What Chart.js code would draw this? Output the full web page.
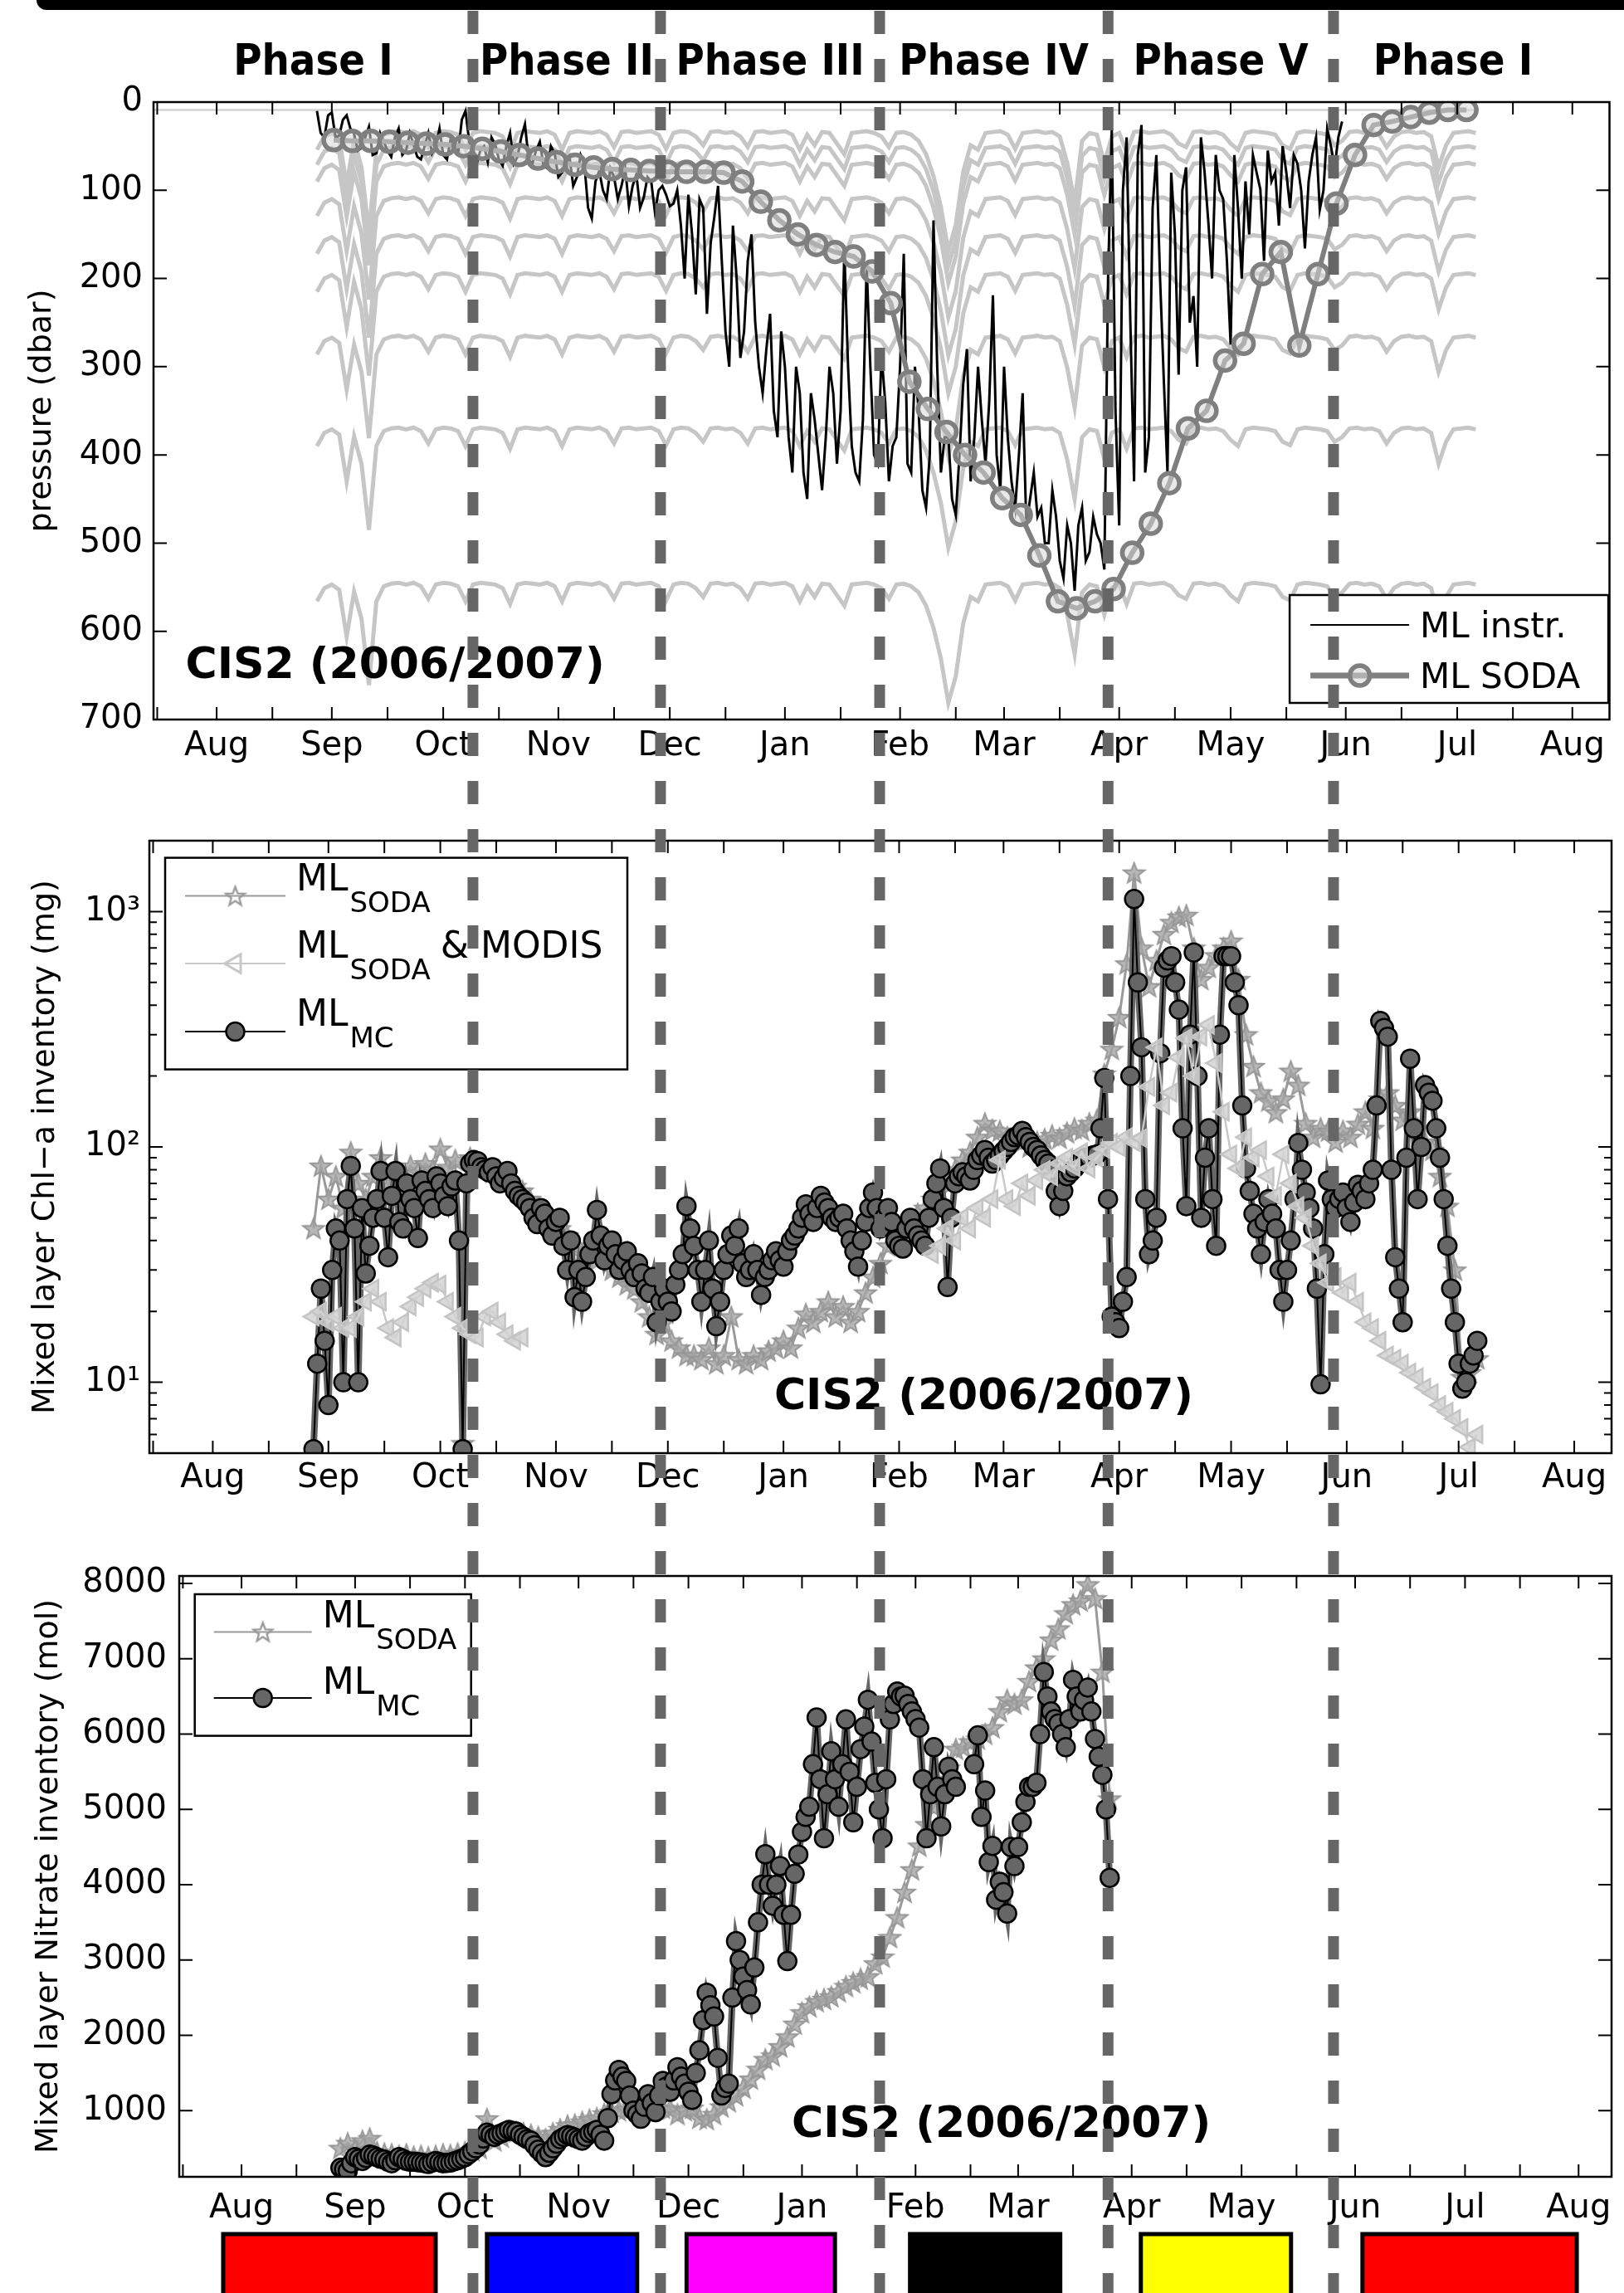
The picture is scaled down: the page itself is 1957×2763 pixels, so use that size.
<!DOCTYPE html>
<html>
<head>
<meta charset="utf-8">
<script src="https://cdn.jsdelivr.net/npm/chart.js@4.4.1/dist/chart.umd.min.js"></script>
<style>
html, body { margin: 0; padding: 0; background: #fff; }
body { width: 1957px; height: 2763px; position: relative; overflow: hidden; }
.topbar { position: absolute; left: 44px; top: 0; width: 1913px; height: 12px; background: #000; border-bottom-left-radius: 12px; }
.panel { position: absolute; left: 0; width: 1957px; }
.panel canvas { display: block; }
#p1 { top: 0; height: 960px; }
#p2 { top: 960px; height: 900px; }
#p3 { top: 1860px; height: 903px; }
</style>
</head>
<body>
<div class="topbar"></div>
<div class="panel" id="p1"><canvas id="c1" width="1957" height="960"></canvas></div>
<div class="panel" id="p2"><canvas id="c2" width="1957" height="900"></canvas></div>
<div class="panel" id="p3"><canvas id="c3" width="1957" height="903"></canvas></div>
<script>
// time axis: days since 1 Aug 2006
var monthLabels = ['Aug', 'Sep', 'Oct', 'Nov', 'Dec', 'Jan', 'Feb', 'Mar', 'Apr', 'May', 'Jun', 'Jul', 'Aug'];
var phaseNames = ['Phase I', 'Phase II', 'Phase III', 'Phase IV', 'Phase V', 'Phase I'];
var phaseDays = [69, 119.5, 178.5, 240, 300.7];
var phaseBoxStart = [-5, 67, 121.5, 182.5, 245.5, 306];
var phaseBoxEnd = [53, 108, 162, 223.5, 286.5, 364.5];
var phaseBoxColors = ['#ff0000', '#0000ff', '#ff00ff', '#000000', '#ffff00', '#ff0000'];
var noteText = 'CIS2 (2006/2007)';

// panel 1 - mixed layer depth
var pressureTicks = [0, 100, 200, 300, 400, 500, 600, 700];
var sensorDepths = [29, 46, 65, 104, 147, 190, 261, 365, 541];
var topLineDays = [-17, 339];
var topLineVals = [9, 9];
// mooring knockdown (dbar), every 2 days from day 27
var knockdown = [25, 10, 6, 12, 65, 14, 45, 120, 25, 8,
  5, 4, 6, 4, 8, 22, 6, 4, 5, 8,
  25, 6, 4, 5, 6, 10, 28, 6, 4, 5,
  6, 4, 8, 25, 6, 4, 5, 6, 4, 8,
  22, 5, 4, 6, 5, 4, 8, 24, 6, 4,
  5, 10, 20, 5, 4, 6, 5, 10, 22, 5,
  4, 6, 5, 4, 8, 25, 8, 20, 5, 6,
  18, 30, 6, 5, 4, 6, 10, 22, 6, 5,
  8, 15, 30, 55, 90, 140, 110, 50, 20, 25,
  6, 5, 4, 8, 24, 6, 5, 4, 6, 5,
  10, 40, 85, 15, 6, 8, 40, 10, 6, 28,
  5, 4, 6, 5, 4, 8, 18, 22, 5, 4,
  6, 5, 8, 18, 25, 6, 4, 5, 6, 8,
  20, 24, 6, 4, 5, 6, 8, 20, 15, 5,
  4, 6, 5, 8, 22, 10, 5, 4, 6, 5,
  10, 45, 20, 6, 5, 4, 6];
// ML instr., days 27,29,...,303
var mlInstr = [10, 40, 12, 38, 15, 36, 52, 28, 58, 45,
  62, 30, 55, 48, 65, 35, 50, 60, 42, 58,
  10, 60, 55, 68, 48, 72, 35, 62, 25, 70,
  45, 75, 58, 80, 62, 85, 70, 132, 78, 110,
  85, 95, 118, 82, 108, 90, 100, 105, 115, 140,
  105, 218, 120, 160, 95, 260, 140, 290, 180, 250,
  330, 240, 380, 300, 420, 330, 450, 360, 440, 300,
  410, 168, 390, 430, 185, 400, 286, 430, 380, 172,
  420, 350, 460, 134, 420, 380, 468, 320, 430, 300,
  410, 219, 440, 380, 460, 330, 450, 470, 500, 440,
  520, 480, 554, 460, 510, 490, 530, 30, 480, 40,
  430, 26, 380, 60, 314, 80, 309, 74, 220, 40,
  136, 60, 110, 275, 122, 90, 60, 99, 55, 80,
  50, 120, 70, 166, 60, 122, 30, 74, 22];
// ML instr., days 28,30,...,302
var mlInstrMid = [35, 15, 40, 20, 30, 55, 40, 60, 35, 55,
  40, 60, 35, 62, 50, 58, 30, 65, 50, 20,
  45, 70, 50, 40, 65, 50, 70, 40, 65, 55,
  72, 50, 85, 70, 95, 60, 120, 90, 100, 75,
  110, 75, 95, 120, 85, 125, 95, 118, 100, 200,
  150, 110, 240, 130, 180, 300, 200, 260, 150, 300,
  280, 350, 260, 380, 300, 420, 330, 400, 380, 330,
  350, 300, 420, 360, 300, 410, 340, 390, 300, 410,
  300, 440, 400, 300, 380, 450, 400, 280, 380, 360,
  340, 400, 300, 430, 400, 480, 420, 460, 500, 470,
  540, 500, 480, 520, 470, 500, 200, 350, 100, 250,
  60, 420, 120, 200, 420, 150, 100, 250, 300, 80,
  200, 100, 180, 60, 200, 150, 80, 180, 90, 140,
  80, 60, 100, 90, 40, 100, 50, 40];
// ML SODA, every 5 days from day 31.5
var mlSoda = [43, 44, 44, 45, 46, 47, 48, 50, 53, 56,
  60, 64, 68, 71, 74, 76, 77, 78, 79, 79,
  79, 80, 90, 113, 134, 150, 162, 170, 175, 192,
  228, 317, 348, 374, 400, 420, 449, 468, 514, 566,
  574, 566, 552, 511, 478, 432, 370, 350, 293, 274,
  195, 170, 276, 195, 115, 60, 26, 22, 17, 12,
  9, 9];

// panel 2 - Chl-a inventory
var chlTicks = [5, 6, 7, 8, 9, 10, 20, 30, 40, 50, 60, 70, 80, 90, 100, 200, 300, 400, 500, 600, 700, 800, 900, 1000, 2000];
// ML SODA, days 27,29,...,339
var chlSoda = [45, 83, 60, 75, 55, 95, 70, 60, 75, 90,
  68, 80, 72, 83, 78, 85, 80, 98, 82, 88,
  5.5, 90, 85, 82, 78, 75, 72, 68, 65, 60,
  55, 52, 48, 45, 42, 38, 35, 36, 33, 35,
  30, 28, 26, 25, 22, 19, 16, 18, 15, 14,
  13, 13, 12.5, 14, 12, 13, 19, 12.5, 12, 13,
  12.5, 13.6, 14, 15, 14, 17, 19.5, 18, 20, 22,
  19, 21, 18, 20, 24, 28, 32, 38, 42, 45,
  48, 52, 55, 60, 65, 72, 80, 88, 95, 110,
  126, 118, 117, 110, 108, 105, 100, 105, 108, 112,
  109, 115, 120, 118, 126, 130, 204, 260, 355, 600,
  1460, 700, 480, 620, 800, 900, 950, 965, 700, 515,
  580, 650, 700, 750, 515, 300, 220, 170, 157, 140,
  160, 210, 183, 126, 110, 120, 117, 105, 117, 110,
  125, 141, 120, 160, 170, 150, 130, 141, 120, 105,
  97, 75, 56, 30, 10.5, 11, 12.6];
// ML MC, days 27,29,...,339
var chlMc = [5.2, 25, 8, 45, 10, 83, 10, 29, 50, 79,
  34, 79, 45, 60, 41, 65, 55, 70, 56, 72,
  5.2, 85, 87, 80, 82, 70, 79, 65, 60, 55,
  47, 52, 42, 50, 30, 23, 22, 35, 54, 33,
  40, 30, 36, 28, 29, 24, 18, 25, 20, 30,
  56, 38, 22, 40, 17.3, 30, 42, 45, 28, 35,
  23.5, 30, 36, 31, 40, 45, 57, 48, 62, 55,
  48, 52, 40, 31, 48, 64, 45, 55, 40, 37,
  50, 42, 38, 60, 81, 25.4, 70, 78, 72, 88,
  97, 85, 92, 100, 110, 117, 105, 97, 88, 80,
  56, 75, 81, 88, 90, 93, 196, 19, 17, 28,
  1130, 265, 35, 50, 578, 646, 383, 56, 670, 50,
  120, 38, 646, 646, 400, 81, 52, 35, 60, 45,
  22, 40, 104, 64, 45, 9.8, 72, 55, 64, 48,
  69, 60, 80, 343, 294, 34, 18, 237, 60, 183,
  157, 90, 38, 18, 9.4, 12, 15];
// ML MC, days 28,30,...,338
var chlMcMid = [12, 15, 30, 40, 60, 45, 55, 38, 60, 50,
  62, 48, 70, 55, 72, 60, 75, 62, 68, 40,
  70, 88, 82, 78, 75, 74, 70, 62, 58, 50,
  55, 45, 48, 38, 40, 30, 28, 40, 42, 38,
  35, 33, 30, 32, 25, 28, 22, 22, 26, 35,
  45, 30, 30, 25, 22, 35, 38, 32, 30, 30,
  28, 33, 33, 36, 42, 50, 52, 55, 58, 50,
  50, 45, 36, 40, 55, 55, 50, 48, 38, 45,
  45, 40, 50, 70, 55, 50, 75, 75, 80, 92,
  90, 88, 96, 105, 112, 110, 100, 92, 85, 65,
  65, 78, 85, 90, 92, 120, 60, 18, 22, 200,
  500, 60, 40, 250, 620, 500, 120, 300, 200, 90,
  60, 300, 646, 500, 150, 65, 45, 48, 52, 30,
  30, 60, 80, 55, 25, 35, 60, 60, 55, 58,
  65, 70, 150, 320, 80, 25, 90, 120, 100, 170,
  120, 60, 25, 12, 10, 13];
// ML SODA & MODIS: days 27-83 and days 193-339
var chlModisA = [19, 20, 18, 19, 17, 17, 19, 22, 25, 22,
  17, 15.5, 18, 21, 23, 25, 26.5, 26, 22, 19,
  17, 16, 15.5, 19, 20, 18, 16, 15, 15.5];
var chlModisB = [35, 38, 45, 40, 50, 45, 55, 50, 60, 88,
  60, 56, 70, 62, 72, 80, 75, 85, 90, 82,
  95, 81, 90, 98, 104, 100, 110, 105, 109, 180,
  265, 150, 170, 240, 290, 200, 294, 330, 227, 141,
  93, 81, 110, 90, 97, 75, 62, 93, 70, 56,
  50, 38, 32, 26.5, 28, 24, 26.5, 22, 18, 17,
  15, 13, 12.6, 12, 11, 10.5, 9.5, 9, 8, 7.5,
  7, 6.4, 5.3, 6];

// panel 3 - nitrate inventory
var nitTicks = [1000, 2000, 3000, 4000, 5000, 6000, 7000, 8000];
// ML SODA, days 27,29,...,237
var nitSoda = [500, 566, 480, 600, 631, 450, 430, 420, 400, 420,
  390, 400, 380, 400, 420, 410, 430, 450, 470, 500,
  891, 600, 650, 700, 720, 700, 680, 650, 620, 700,
  750, 800, 815, 850, 880, 900, 957, 980, 1000, 1020,
  1050, 1068, 1050, 1040, 1033, 1020, 950, 1000, 1033, 900,
  883, 950, 1050, 1120, 1199, 1300, 1420, 1550, 1680, 1727,
  1850, 1980, 2150, 2300, 2380, 2450, 2480, 2513, 2580, 2650,
  2700, 2750, 2780, 2950, 3040, 3300, 3564, 3900, 4200, 4514,
  4800, 5035, 5300, 5550, 5800, 5826, 5900, 5935, 6000, 6087,
  6300, 6456, 6400, 6456, 6700, 6880, 7000, 7250, 7400, 7600,
  7720, 7770, 7985, 7800, 6824, 5141];
// ML MC, days 27,29,...,237
var nitMc = [240, 200, 382, 330, 414, 380, 350, 300, 382, 330,
  320, 309, 290, 330, 300, 309, 340, 380, 457, 550,
  707, 650, 700, 743, 720, 650, 600, 480, 382, 500,
  620, 675, 640, 600, 700, 743, 600, 1217, 1540, 1394,
  1000, 891, 1217, 980, 1394, 1250, 1575, 1358, 1141, 1800,
  2565, 2250, 1200, 1358, 3250, 2780, 2410, 3500, 4405, 3720,
  4248, 2985, 4145, 4700, 5035, 6220, 4617, 5772, 5035, 6195,
  4829, 5800, 6456, 5353, 4617, 6195, 6564, 6510, 6300, 6087,
  4617, 5826, 4774, 5566, 5300, null, null, 5983, 5250, 4514,
  4037, 3617, 4247, 4829, 5300, 5353, 6824, 6300, 6140, 5826,
  6720, 6300, 6618, 5935, 5458, 4091];
// ML MC, days 28,30,...,236
var nitMcMid = [220, 300, 360, 370, 400, 360, 320, 340, 360, 320,
  315, 300, 310, 315, 305, 325, 360, 420, 500, 630,
  680, 680, 720, 730, 680, 620, 540, 430, 440, 560,
  650, 660, 620, 650, 720, 680, 900, 1400, 1450, 1200,
  950, 1050, 1100, 1200, 1320, 1400, 1450, 1250, 1500, 2200,
  2400, 1700, 1300, 2500, 3000, 2600, 2900, 4000, 4000, 4000,
  3600, 3600, 4400, 4900, 5600, 5400, 5200, 5400, 5600, 5500,
  5300, 6100, 5900, 5000, 5400, 6400, 6500, 6400, 6200, 5400,
  5200, 5300, 5200, 5400, null, null, 5600, 4900, 4300, 3800,
  3900, 4500, 4500, 5100, 5300, 6000, 6500, 6200, 6000, 6200,
  6500, 6450, 6300, 5700, 5000];

// ---- helpers ----
function series(start, step, vals) {
  return vals.map(function (v, i) { return { x: start + i * step, y: v }; });
}
function interleave(a, b) {
  var out = [];
  a.forEach(function (v, i) { out.push(v); if (i < b.length) out.push(b[i]); });
  return out;
}
var monthStart = monthLabels.map(function (m, i) {
  return Math.round((Date.UTC(2006, 7 + i, 1) - Date.UTC(2006, 7, 1)) / 864e5);
});
var xTicks = [-16];
monthStart.forEach(function (d) { xTicks.push(d); xTicks.push(d + 15); });

function makeStar(size, color, lw, fill) {
  var c = document.createElement('canvas');
  c.width = size; c.height = size;
  var g = c.getContext('2d');
  var cx = size / 2, cy = size / 2 + 1, R = size / 2 - 2, r = R * 0.42;
  g.beginPath();
  for (var i = 0; i < 10; i++) {
    var ang = -Math.PI / 2 + i * Math.PI / 5, rr = i % 2 ? r : R;
    g.lineTo(cx + rr * Math.cos(ang), cy + rr * Math.sin(ang));
  }
  g.closePath();
  if (fill) { g.fillStyle = fill; g.fill(); }
  g.strokeStyle = color; g.lineWidth = lw; g.stroke();
  return c;
}
var starImg = makeStar(28, '#9a9a9a', 2.4);
var starFill = makeStar(30, '#969696', 2, 'rgba(165,165,165,0.8)');

var GRAY_SODA = '#7f7f7f', GRAY_MC = '#666666', GRAY_STAR = '#9a9a9a', GRAY_MODIS = '#c8c8c8';
var refChart = null;

function xAxis(max, pad, h) {
  return {
    type: 'linear', min: -17, max: max,
    grid: { display: false, drawTicks: false }, border: { display: false },
    afterBuildTicks: function (s) {
      s.ticks = xTicks.filter(function (v) { return v >= s.min && v <= s.max; }).map(function (v) { return { value: v }; });
    },
    afterFit: function (s) { s.height = h; },
    ticks: {
      autoSkip: false, maxRotation: 0, padding: pad, font: { size: 40 },
      callback: function (v) { var i = monthStart.indexOf(v); return i < 0 ? '' : monthLabels[i]; }
    }
  };
}

function drawFrame(chart) {
  var ctx = chart.ctx, a = chart.chartArea, xs = chart.scales.x, ys = chart.scales.y;
  ctx.setLineDash([]);
  ctx.strokeStyle = '#000';
  ctx.lineWidth = 2;
  ctx.beginPath();
  xs.ticks.forEach(function (t) {
    var p = xs.getPixelForValue(t.value);
    ctx.moveTo(p, a.bottom); ctx.lineTo(p, a.bottom - 15);
    ctx.moveTo(p, a.top); ctx.lineTo(p, a.top + 15);
  });
  ys.ticks.forEach(function (t) {
    var p = ys.getPixelForValue(t.value), len = t.label ? 16 : 9;
    ctx.moveTo(a.left, p); ctx.lineTo(a.left + len, p);
    ctx.moveTo(a.right, p); ctx.lineTo(a.right - len, p);
  });
  ctx.stroke();
  ctx.lineWidth = 2.5;
  ctx.strokeRect(a.left, a.top, a.right - a.left, a.bottom - a.top);
}

function drawNote(chart, d, v) {
  var ctx = chart.ctx;
  ctx.fillStyle = '#000';
  ctx.font = "bold 52px 'DejaVu Sans'";
  ctx.textAlign = 'left'; ctx.textBaseline = 'alphabetic';
  ctx.fillText(noteText, chart.scales.x.getPixelForValue(d), chart.scales.y.getPixelForValue(v));
}

function markCircle(ctx, x, y, r, fill, stroke, lw) {
  ctx.beginPath(); ctx.arc(x, y, r, 0, Math.PI * 2);
  ctx.fillStyle = fill; ctx.fill();
  ctx.lineWidth = lw; ctx.strokeStyle = stroke; ctx.stroke();
}
function markTri(ctx, x, y, r, stroke) {
  ctx.beginPath(); ctx.moveTo(x - r, y); ctx.lineTo(x + r * 0.5, y - r * 0.866); ctx.lineTo(x + r * 0.5, y + r * 0.866); ctx.closePath();
  ctx.lineWidth = 3; ctx.strokeStyle = stroke; ctx.stroke();
}
function markStar(ctx, x, y) { ctx.drawImage(starImg, x - 14, y - 14); }
function markMc(ctx, x, y) { markCircle(ctx, x, y, 11, GRAY_MC, '#000', 2.5); }

function drawLegend(ctx, L) {
  ctx.setLineDash([]);
  ctx.fillStyle = '#fff'; ctx.fillRect(L.x, L.y, L.w, L.h);
  ctx.lineWidth = 2.5; ctx.strokeStyle = '#000'; ctx.strokeRect(L.x, L.y, L.w, L.h);
  L.items.forEach(function (it) {
    var y = L.y + it.dy;
    ctx.strokeStyle = it.color; ctx.lineWidth = it.lw;
    ctx.beginPath(); ctx.moveTo(L.x + L.l0, y); ctx.lineTo(L.x + L.l1, y); ctx.stroke();
    it.mark(ctx, L.x + (L.l0 + L.l1) / 2, y);
    ctx.fillStyle = '#000'; ctx.textAlign = 'left'; ctx.textBaseline = 'alphabetic';
    ctx.font = L.font;
    var tx = L.x + L.tx;
    ctx.fillText(it.text, tx, y + L.textDy);
    tx += ctx.measureText(it.text).width;
    if (it.sub) {
      ctx.font = L.subFont;
      ctx.fillText(it.sub, tx + 2, y + L.subDy);
      tx += 2 + ctx.measureText(it.sub).width;
    }
    if (it.after) { ctx.font = L.font; ctx.fillText(it.after, tx + 12, y + L.textDy); }
  });
}

function drawPhaseLines(chart, topOffset) {
  var ctx = chart.ctx, xs = (refChart || chart).scales.x;
  ctx.save();
  ctx.strokeStyle = '#666'; ctx.lineWidth = 13; ctx.setLineDash([28, 30]);
  phaseDays.forEach(function (d) {
    var x = xs.getPixelForValue(d);
    ctx.beginPath(); ctx.moveTo(x, 13 - topOffset); ctx.lineTo(x, chart.height); ctx.stroke();
  });
  ctx.restore();
}

function decor(opts) {
  return {
    id: 'decor',
    afterDraw: function (chart) {
      var ctx = chart.ctx;
      ctx.save();
      drawFrame(chart);
      if (opts.extra) opts.extra(chart);
      drawNote(chart, opts.noteDay, opts.noteVal);
      drawLegend(ctx, opts.legend(chart.chartArea));
      ctx.restore();
      drawPhaseLines(chart, opts.top);
    }
  };
}

function baseOptions(pad) {
  return {
    responsive: false, maintainAspectRatio: false, animation: false, devicePixelRatio: 1, events: [],
    layout: { padding: pad },
    elements: { line: { tension: 0 } },
    plugins: { legend: { display: false }, tooltip: { enabled: false } }
  };
}

Chart.defaults.font.family = "'DejaVu Sans', sans-serif";
Chart.defaults.color = '#000';

// ---- panel 1 ----
var ds1 = [];
ds1.push({ data: series(31.5, 5, mlSoda), borderColor: GRAY_SODA, borderWidth: 6, pointRadius: 12,
  pointBorderWidth: 5.5, pointBorderColor: GRAY_SODA, pointBackgroundColor: 'rgba(215,215,215,0.55)', order: 0 });
ds1.push({ data: series(27, 1, interleave(mlInstr, mlInstrMid)), borderColor: '#000', borderWidth: 3, pointRadius: 0, order: 1 });
sensorDepths.forEach(function (dep) {
  ds1.push({ data: series(27, 2, knockdown.map(function (k) { return dep + k; })),
    borderColor: '#c6c6c6', borderWidth: 5, pointRadius: 0, order: 2 });
});
ds1.push({ data: topLineDays.map(function (d, i) { return { x: d, y: topLineVals[i] }; }),
  borderColor: '#d2d2d2', borderWidth: 2.5, pointRadius: 0, order: 3 });

var o1 = baseOptions({ top: 123, left: 0, right: 5, bottom: 0 });
o1.scales = {
  x: xAxis(375, 9, 93),
  y: {
    type: 'linear', reverse: true, min: 0, max: 700,
    grid: { display: false, drawTicks: false }, border: { display: false },
    afterBuildTicks: function (s) { s.ticks = pressureTicks.map(function (v) { return { value: v }; }); },
    afterFit: function (s) { s.width = 185; },
    ticks: { padding: 13, font: { size: 40 }, autoSkip: false, callback: function (v) { return String(v); } },
    title: { display: true, text: 'pressure (dbar)', font: { size: 38 }, padding: { top: 28, bottom: 0 } }
  }
};
var chart1 = new Chart(document.getElementById('c1'), {
  type: 'line', data: { datasets: ds1 }, options: o1,
  plugins: [decor({
    top: 0, noteDay: -8.4, noteVal: 653,
    extra: function (chart) {
      var ctx = chart.ctx, xs = chart.scales.x;
      var bounds = [-17].concat(phaseDays, [365]);
      ctx.fillStyle = '#000';
      ctx.font = "bold 52px 'DejaVu Sans Condensed', 'DejaVu Sans'";
      ctx.textAlign = 'center'; ctx.textBaseline = 'alphabetic';
      phaseNames.forEach(function (n, i) {
        ctx.fillText(n, xs.getPixelForValue((bounds[i] + bounds[i + 1]) / 2), 90);
      });
    },
    legend: function (a) {
      return {
        x: a.right - 385.4, y: a.bottom - 150, w: 384, h: 130, l0: 25, l1: 144, tx: 157,
        font: "42px 'DejaVu Sans'", subFont: "34px 'DejaVu Sans'", textDy: 15, subDy: 0,
        items: [
          { dy: 36, text: 'ML instr.', color: '#000', lw: 2, mark: function () {} },
          { dy: 97, text: 'ML SODA', color: GRAY_SODA, lw: 7,
            mark: function (ctx, x, y) { markCircle(ctx, x, y, 12, 'rgba(215,215,215,0.55)', GRAY_SODA, 5.5); } }
        ]
      };
    }
  })]
});
refChart = chart1;

// ---- panel 2 ----
var modisData = series(27, 2, chlModisA).concat([{ x: 85, y: null }], series(193, 2, chlModisB));
var chlMcAll = series(27, 1, interleave(chlMc, chlMcMid));
var o2 = baseOptions({ top: 53, left: 0, right: 1, bottom: 0 });
o2.scales = {
  x: xAxis(375, 7, 109),
  y: {
    type: 'logarithmic', min: 5, max: 2000,
    grid: { display: false, drawTicks: false }, border: { display: false },
    afterBuildTicks: function (s) { s.ticks = chlTicks.map(function (v) { return { value: v }; }); },
    afterFit: function (s) { s.width = 180; },
    ticks: { padding: 11, font: { size: 40 }, autoSkip: false,
      callback: function (v) { return v === 10 ? '10\u00b9' : v === 100 ? '10\u00b2' : v === 1000 ? '10\u00b3' : ''; } },
    title: { display: true, text: 'Mixed layer Chl\u2212a inventory (mg)', font: { size: 38 }, padding: { top: 32, bottom: 0 } }
  }
};
new Chart(document.getElementById('c2'), {
  type: 'line',
  data: { datasets: [
    { data: modisData, borderColor: GRAY_MODIS, borderWidth: 2.5, pointStyle: 'triangle', rotation: -90, pointRadius: 12,
      pointBorderWidth: 2.5, pointBorderColor: '#c4c4c4', pointBackgroundColor: 'rgba(212,212,212,0.85)', order: 0 },
    { data: chlMcAll, borderColor: '#000', borderWidth: 2, pointRadius: 11, pointBorderWidth: 2.5,
      pointBorderColor: '#000', pointBackgroundColor: GRAY_MC, order: 1 },
    { data: chlMcAll, borderColor: GRAY_MC, borderWidth: 8, pointRadius: 0, order: 2 },
    { data: series(27, 2, chlSoda), borderColor: GRAY_STAR, borderWidth: 3, pointStyle: starFill, pointRadius: 12, order: 3 }
  ] },
  options: o2,
  plugins: [decor({
    top: 960, noteDay: 150.5, noteVal: 7.66,
    legend: function (a) {
      return {
        x: a.left + 19, y: a.top + 20.6, w: 557, h: 255, l0: 24, l1: 145, tx: 158,
        font: "44px 'DejaVu Sans'", subFont: "34px 'DejaVu Sans'", textDy: -7, subDy: 19,
        items: [
          { dy: 46, text: 'ML', sub: 'SODA', color: GRAY_STAR, lw: 2, mark: markStar },
          { dy: 127.5, text: 'ML', sub: 'SODA', after: '& MODIS', color: GRAY_MODIS, lw: 2,
            mark: function (ctx, x, y) { markTri(ctx, x, y, 13, GRAY_MODIS); } },
          { dy: 209.5, text: 'ML', sub: 'MC', color: '#000', lw: 2, mark: markMc }
        ]
      };
    }
  })]
});

// ---- panel 3 ----
var nitMcAll = series(27, 1, interleave(nitMc, nitMcMid));
var o3 = baseOptions({ top: 35, left: 0, right: 1, bottom: 0 });
o3.scales = {
  x: xAxis(374, 15, 140),
  y: {
    type: 'linear', min: 120, max: 8100,
    grid: { display: false, drawTicks: false }, border: { display: false },
    afterBuildTicks: function (s) { s.ticks = nitTicks.map(function (v) { return { value: v }; }); },
    afterFit: function (s) { s.width = 216; },
    ticks: { padding: 15, font: { size: 40 }, autoSkip: false, callback: function (v) { return String(v); } },
    title: { display: true, text: 'Mixed layer Nitrate inventory (mol)', font: { size: 38 }, padding: { top: 36, bottom: 0 } }
  }
};
new Chart(document.getElementById('c3'), {
  type: 'line',
  data: { datasets: [
    { data: nitMcAll, borderColor: '#000', borderWidth: 2, pointRadius: 11, pointBorderWidth: 2.5,
      pointBorderColor: '#000', pointBackgroundColor: GRAY_MC, order: 0 },
    { data: nitMcAll, borderColor: GRAY_MC, borderWidth: 8, pointRadius: 0, order: 1 },
    { data: series(27, 2, nitSoda), borderColor: GRAY_STAR, borderWidth: 3, pointStyle: starFill, pointRadius: 12, order: 2 }
  ] },
  options: o3,
  plugins: [decor({
    top: 1860, noteDay: 150.2, noteVal: 649,
    extra: function (chart) {
      var ctx = chart.ctx, xs = chart.scales.x, a = chart.chartArea, top = a.bottom + 69;
      ctx.setLineDash([]);
      phaseBoxColors.forEach(function (c, i) {
        var x0 = xs.getPixelForValue(phaseBoxStart[i]), x1 = xs.getPixelForValue(phaseBoxEnd[i]);
        ctx.fillStyle = c; ctx.fillRect(x0, top, x1 - x0, chart.height - top + 10);
        ctx.lineWidth = 5; ctx.strokeStyle = '#000'; ctx.strokeRect(x0, top, x1 - x0, chart.height - top + 10);
      });
    },
    legend: function (a) {
      return {
        x: a.left + 18.7, y: a.top + 22, w: 333, h: 170.6, l0: 23, l1: 141, tx: 154,
        font: "44px 'DejaVu Sans'", subFont: "34px 'DejaVu Sans'", textDy: -5.5, subDy: 20.5,
        items: [
          { dy: 45.4, text: 'ML', sub: 'SODA', color: GRAY_STAR, lw: 2, mark: markStar },
          { dy: 125, text: 'ML', sub: 'MC', color: '#000', lw: 2, mark: markMc }
        ]
      };
    }
  })]
});
</script>
</body>
</html>
